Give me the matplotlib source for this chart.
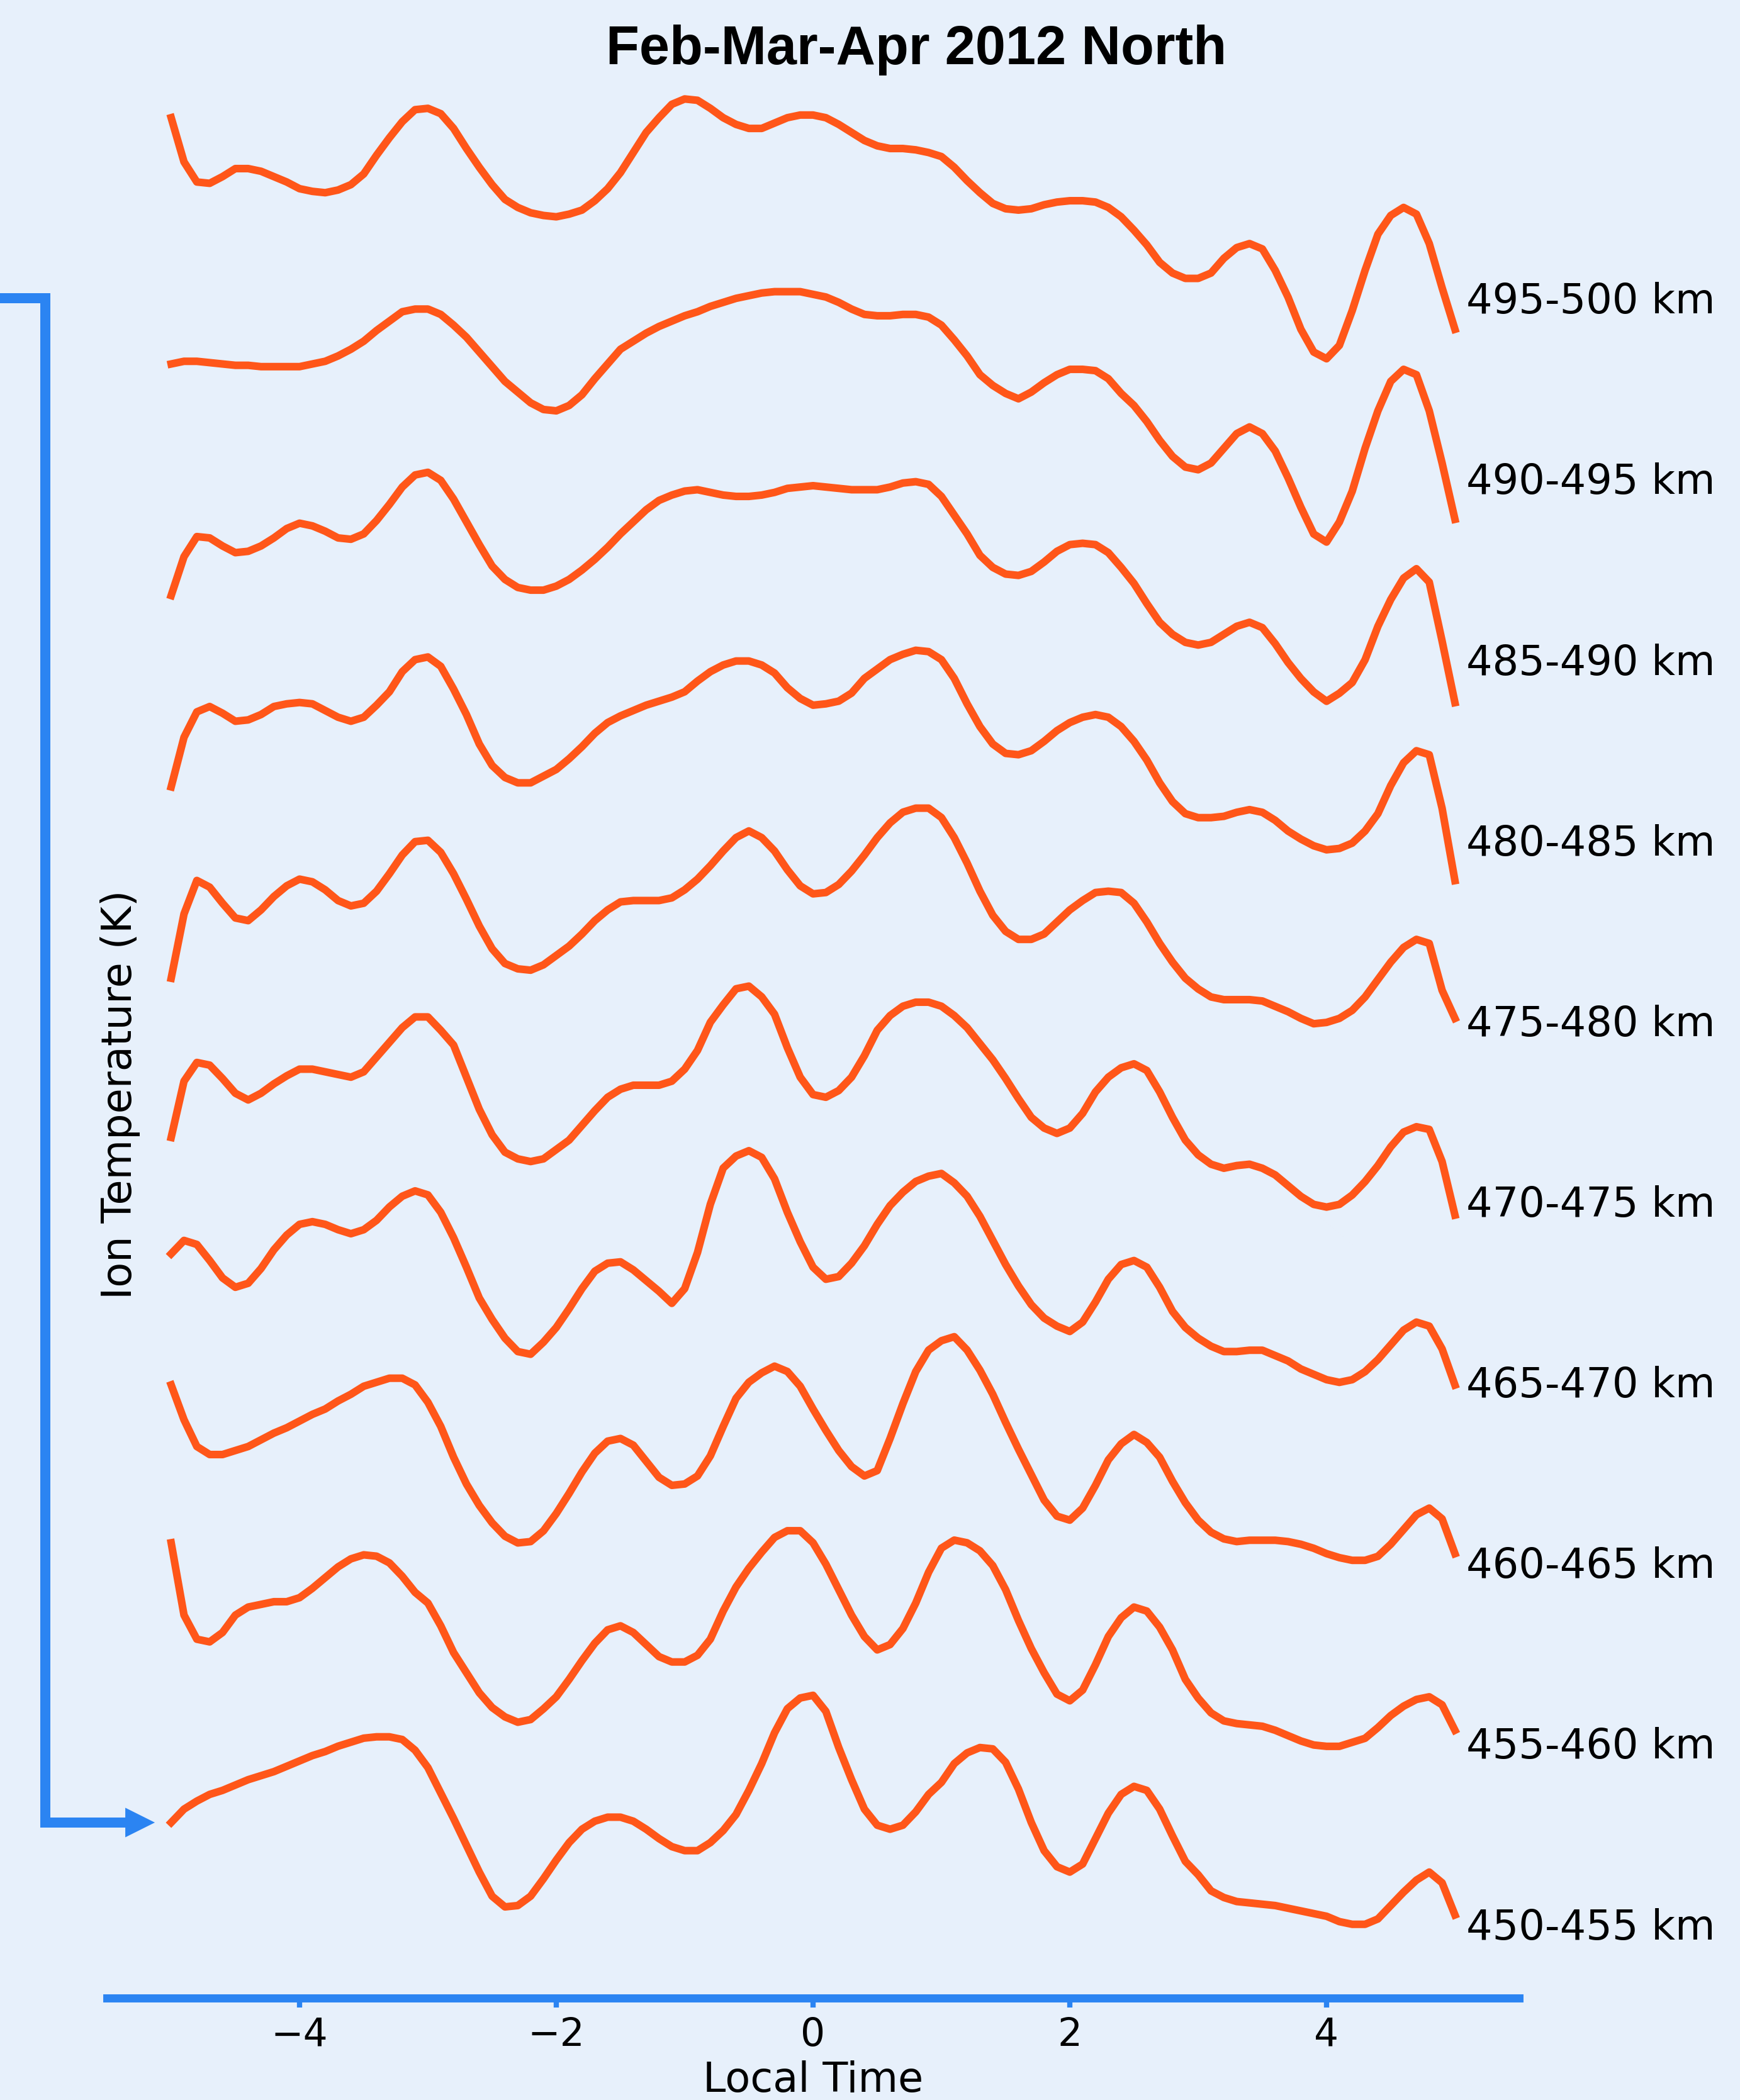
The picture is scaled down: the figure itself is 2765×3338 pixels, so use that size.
import matplotlib.pyplot as plt
import numpy as np

TITLE = "Feb-Mar-Apr 2012 North"
X_LABEL = "Local Time"
Y_LABEL = "Ion Temperature (K)"

BG = "#E7F0FB"
ORANGE = "#FF5619"
BLUE = "#2B84F2"

local_time = np.linspace(-5, 5, 101)

altitude_bins = ["450-455 km", "455-460 km", "460-465 km", "465-470 km", "470-475 km",
                 "475-480 km", "480-485 km", "485-490 km", "490-495 km", "495-500 km"]

# ion temperature per altitude bin, relative to the bin baseline (K)
temp_450_455 = [76, 86, 92, 97, 100, 104, 108, 111, 114, 118,
                122, 126, 129, 133, 136, 139, 140, 140, 138, 130,
                117, 98, 79, 59, 39, 21, 13, 14, 21, 34,
                48, 61, 71, 77, 80, 80, 77, 71, 64, 58,
                55, 55, 61, 70, 82, 100, 120, 143, 161, 169,
                171, 159, 132, 108, 86, 74, 71, 74, 84, 97,
                106, 120, 128, 132, 131, 121, 101, 76, 55, 43,
                39, 45, 64, 83, 97, 103, 100, 86, 66, 47,
                37, 25, 20, 17, 16, 15, 14, 12, 10, 8,
                6, 2, 0, 0, 4, 14, 24, 33, 39, 31, 7]

temp_455_460 = [150, 96, 78, 76, 83, 96, 102, 104, 106, 106,
                109, 116, 124, 132, 138, 141, 140, 135, 125, 113,
                105, 88, 68, 53, 38, 27, 20, 16, 18, 26,
                35, 48, 62, 75, 85, 88, 83, 74, 65, 61,
                61, 66, 78, 99, 117, 131, 143, 154, 159, 159,
                150, 134, 115, 96, 80, 70, 74, 86, 105, 128,
                146, 152, 150, 144, 133, 115, 92, 71, 53, 37,
                32, 40, 59, 80, 94, 102, 99, 87, 70, 48,
                34, 23, 17, 15, 14, 13, 10, 6, 2, -1,
                -2, -2, 1, 4, 12, 21, 28, 33, 35, 29, 10]

temp_460_465 = [133, 107, 87, 81, 81, 84, 87, 92, 97, 101,
                106, 111, 115, 121, 126, 132, 135, 138, 138, 133,
                120, 102, 79, 59, 43, 30, 20, 15, 16, 24,
                37, 52, 68, 82, 91, 93, 88, 76, 64, 58,
                59, 65, 80, 102, 123, 135, 142, 147, 143, 132,
                115, 99, 84, 72, 65, 69, 93, 119, 143, 159,
                166, 169, 159, 144, 126, 105, 85, 66, 47, 35,
                32, 41, 58, 77, 89, 96, 90, 79, 61, 45,
                32, 23, 18, 16, 17, 17, 17, 16, 14, 11,
                7, 4, 2, 2, 5, 14, 25, 36, 41, 33, 7]

temp_465_470 = [96, 106, 103, 91, 78, 71, 74, 85, 99, 110,
                118, 120, 118, 114, 111, 114, 121, 131, 139, 143,
                140, 127, 108, 86, 63, 47, 33, 23, 21, 30,
                41, 55, 70, 83, 89, 90, 84, 76, 68, 59,
                70, 97, 133, 160, 169, 173, 168, 152, 127, 105,
                86, 77, 79, 89, 102, 118, 132, 142, 150, 154,
                156, 149, 139, 124, 106, 88, 72, 58, 48, 42,
                38, 45, 60, 77, 88, 91, 86, 71, 53, 41,
                33, 27, 23, 23, 24, 24, 20, 16, 10, 6,
                2, 0, 2, 8, 17, 28, 39, 45, 42, 25, -2]

temp_470_475 = [48, 90, 104, 102, 92, 81, 76, 81, 88, 94,
                99, 99, 97, 95, 93, 97, 108, 119, 130, 138,
                138, 128, 117, 93, 69, 50, 37, 32, 30, 32,
                39, 46, 57, 68, 78, 84, 87, 87, 87, 90,
                99, 113, 134, 147, 159, 161, 153, 140, 115, 93,
                80, 78, 83, 93, 109, 128, 139, 146, 149, 149,
                146, 139, 130, 118, 106, 92, 77, 63, 55, 51,
                55, 66, 82, 93, 100, 103, 98, 82, 63, 46,
                35, 28, 25, 27, 28, 25, 20, 12, 4, -2,
                -4, -2, 5, 15, 27, 41, 52, 56, 54, 30, -10]

temp_475_480 = [32, 80, 105, 100, 88, 77, 75, 83, 93, 101,
                106, 104, 98, 90, 86, 88, 97, 110, 124, 134,
                135, 126, 110, 91, 71, 54, 43, 39, 38, 42,
                49, 56, 65, 75, 83, 89, 90, 90, 90, 92,
                98, 106, 116, 127, 137, 142, 137, 127, 113, 101,
                95, 96, 102, 112, 124, 137, 148, 156, 159, 159,
                152, 137, 118, 97, 79, 67, 61, 61, 65, 74,
                83, 90, 96, 97, 96, 88, 74, 58, 44, 32,
                24, 18, 16, 16, 16, 15, 11, 7, 2, -2,
                -1, 2, 8, 18, 31, 44, 55, 61, 58, 23, 2]

temp_480_485 = [40, 77, 96, 100, 95, 89, 90, 94, 100, 102,
                103, 102, 97, 92, 89, 92, 101, 111, 126, 135,
                137, 130, 113, 94, 72, 56, 47, 43, 43, 48,
                53, 61, 70, 80, 88, 93, 97, 101, 104, 107,
                111, 119, 126, 131, 134, 134, 131, 125, 114, 106,
                101, 102, 104, 110, 121, 128, 135, 139, 142, 141,
                135, 121, 102, 85, 72, 65, 64, 67, 74, 82,
                88, 92, 94, 92, 85, 74, 60, 43, 29, 20,
                17, 17, 18, 21, 23, 21, 15, 7, 1, -4,
                -7, -6, -2, 7, 20, 41, 58, 67, 64, 24, -30]

temp_485_490 = [48, 77, 92, 91, 85, 80, 81, 85, 91, 98,
                102, 100, 96, 91, 90, 94, 104, 116, 129, 138,
                140, 134, 120, 103, 86, 70, 60, 54, 52, 52,
                55, 60, 67, 75, 84, 94, 103, 112, 119, 123,
                126, 127, 125, 123, 122, 122, 123, 125, 128, 129,
                130, 129, 128, 127, 127, 127, 129, 132, 133, 131,
                122, 108, 94, 78, 69, 64, 63, 66, 73, 81,
                86, 87, 86, 80, 69, 57, 42, 28, 19, 13,
                11, 13, 19, 25, 28, 24, 12, -2, -14, -24,
                -31, -25, -17, 0, 25, 45, 61, 68, 58, 14, -32]

temp_490_495 = [86, 88, 88, 87, 86, 85, 85, 84, 84, 84,
                84, 86, 88, 92, 97, 103, 111, 118, 125, 127,
                127, 123, 115, 106, 95, 84, 73, 65, 57, 52,
                51, 55, 63, 75, 86, 97, 103, 109, 114, 118,
                122, 125, 129, 132, 135, 137, 139, 140, 140, 140,
                138, 136, 132, 127, 123, 122, 122, 123, 123, 121,
                115, 104, 92, 78, 70, 64, 60, 65, 72, 78,
                82, 82, 81, 75, 64, 55, 43, 29, 17, 9,
                7, 12, 23, 34, 39, 34, 21, 1, -21, -41,
                -47, -32, -9, 23, 51, 73, 82, 78, 51, 12, -30]

temp_495_500 = [135, 102, 87, 86, 91, 97, 97, 95, 91, 87,
                82, 80, 79, 81, 85, 93, 107, 120, 132, 141,
                142, 138, 127, 112, 98, 85, 74, 68, 64, 62,
                61, 63, 66, 73, 82, 94, 109, 124, 135, 145,
                149, 148, 142, 135, 130, 127, 127, 131, 135, 137,
                137, 135, 130, 124, 118, 114, 112, 112, 111, 109,
                106, 98, 88, 79, 71, 67, 66, 67, 70, 72,
                73, 73, 72, 68, 61, 51, 40, 27, 19, 15,
                15, 19, 30, 38, 41, 37, 21, 1, -23, -40,
                -45, -35, -9, 21, 48, 62, 68, 63, 41, 8, -23]


def plot_ion_temperature(series, spacing=134.9):
  fig = plt.figure(figsize=(2765 / 300, 3338 / 300), dpi=300, facecolor=BG)
  ax = fig.add_axes([170 / 2765, 162 / 3338, 2244 / 2765, 3176 / 3338])
  ax.set_facecolor(BG)

  for i, (label, temps) in enumerate(zip(altitude_bins, series)):
    base = i * spacing
    ax.plot(local_time, base + np.asarray(temps), color=ORANGE, lw=2.9)
    ax.annotate(label, xy=(5.09, base), xytext=(0, -0.3645 * 15.7), textcoords="offset points",
                ha="left", va="baseline", fontsize=15.7, annotation_clip=False)

  # bracket arrow pointing from the top bin down to the lowest one
  top = (len(series) - 1) * spacing
  start = series[0][0]
  ax.plot([-6.34, -5.98, -5.98, -5.30], [top, top, start, start], color=BLUE, lw=3.84,
          clip_on=False, solid_joinstyle="miter", solid_capstyle="butt")
  ax.annotate("", xy=(-5.127, start), xytext=(-5.45, start),
              arrowprops=dict(arrowstyle="-|>,head_length=0.4,head_width=0.2", mutation_scale=28.2,
                              lw=0, color=BLUE, shrinkA=0, shrinkB=0),
              annotation_clip=False)

  ax.set_xlim(-5.5, 5.5)
  ax.set_ylim(-55.1, 1437)
  ax.set_xticks([-4, -2, 0, 2, 4])
  ax.set_yticks([])
  for side in ["left", "top", "right"]:
    ax.spines[side].set_visible(False)
  ax.spines["bottom"].set_color(BLUE)
  ax.spines["bottom"].set_linewidth(3.1)
  ax.tick_params(axis="x", color=BLUE, width=2, length=3.5, labelsize=14.8, labelcolor="black")

  fig.text(0.5265, 0.9694, TITLE, ha="center", va="baseline", fontsize=20.8, fontweight="bold",
           family=["Liberation Sans", "DejaVu Sans"])
  fig.text(1292 / 2765, 0.004, X_LABEL, ha="center", va="baseline", fontsize=15.7)
  fig.text(0.0689, 0.4787, Y_LABEL, rotation=90, ha="center", va="center", fontsize=15.7)

  fig.savefig("out.png", dpi=300, facecolor=BG)


if __name__ == "__main__":
  series = [temp_450_455, temp_455_460, temp_460_465, temp_465_470, temp_470_475,
            temp_475_480, temp_480_485, temp_485_490, temp_490_495, temp_495_500]
  plot_ion_temperature(series)
